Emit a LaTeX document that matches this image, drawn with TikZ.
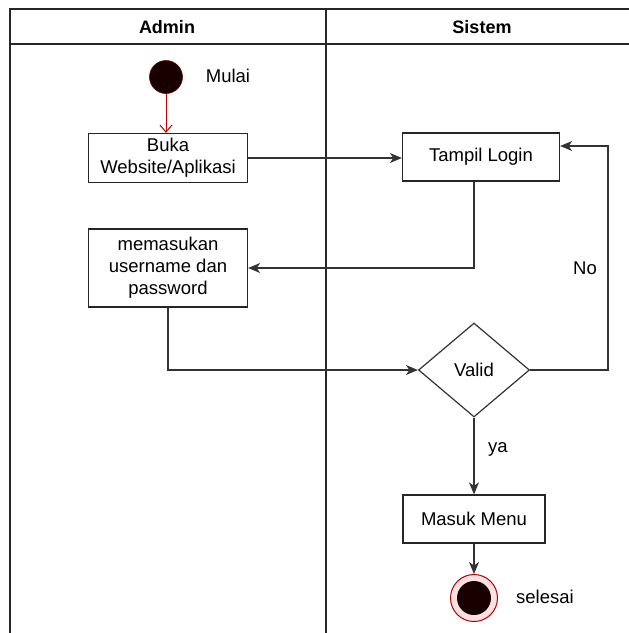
\documentclass[tikz,border=0pt]{standalone}
\usepackage{fontspec}
\setmainfont{Liberation Sans}
\usetikzlibrary{arrows.meta,shapes.geometric}
\begin{document}
\begin{tikzpicture}[x=1pt,y=-1pt,
  every node/.style={font=\fontsize{18.5}{22}\selectfont},
  lane/.style={line width=1.3pt,draw=black!85},
  act/.style={draw=black!85,line width=1.3pt,fill=white,align=center,inner sep=0pt},
  decide/.style={diamond,draw=black!80,line width=1.2pt,fill=white,inner sep=0pt,aspect=1.18},
  flow/.style={line width=1.2pt,draw=black!80,-{Stealth[length=12pt,width=10pt,inset=3.5pt]}},
  startflow/.style={line width=1pt,draw=red!75!black,-{Straight Barb[length=7pt,width=12pt]}},
  hdr/.style={font=\fontsize{18}{22}\selectfont\bfseries}]
\useasboundingbox (0,0) rectangle (629,633);

% swimlane frame
\draw[lane] (10,633) -- (10,9) -- (629,9);
\draw[lane] (10,44) -- (629,44);
\draw[lane] (326,9) -- (326,633);
\node[hdr] (hAdmin) at (167,27) {Admin};
\node[hdr] (hSistem) at (482,27) {Sistem};

% start
\node[circle,fill=black!90!red,draw=red!40!black,line width=0.6pt,minimum size=33pt,inner sep=0pt] (start) at (166,77) {};
\node (mulai) at (228,76) {Mulai};

% activities
\node[act,minimum width=159pt,minimum height=49pt] (buka) at (168,158) {Buka\\Website/Aplikasi};
\node[act,minimum width=157pt,minimum height=48pt] (login) at (481,157) {Tampil Login};
\node[act,minimum width=159pt,minimum height=78pt] (input) at (168,268) {memasukan\\username dan\\password};
\node[decide,minimum width=111pt,minimum height=94pt] (valid) at (474,370) {Valid};
\node[act,minimum width=142pt,minimum height=48pt] (menu) at (474,519) {Masuk Menu};

% end
\node[circle,draw=red!70!black,fill=red!12,line width=1pt,minimum size=47pt,inner sep=0pt] (stop) at (474,598) {};
\node[circle,fill=black!90!red,minimum size=34pt,inner sep=0pt] (stopcore) at (stop.center) {};
\node (selesai) at (545,597) {selesai};

% flows
\draw[startflow] (start.south) -- (start.south |- buka.north);
\draw[flow] (buka.east) -- (buka.east -| login.west);
\draw[flow] ([xshift=-7pt]login.south) |- (input.east);
\draw[flow] (input.south) |- (valid.west);
\coordinate (noCorner) at (608,370);
\draw[flow] (valid.east) -- (noCorner) |- ([yshift=11pt]login.east);
\node (no) at (585,268) {No};
\draw[flow] (valid.south) -- (menu.north);
\node (ya) at (498,449) {ya};
\draw[flow] (menu.south) -- (stop.north);
\end{tikzpicture}
\end{document}
